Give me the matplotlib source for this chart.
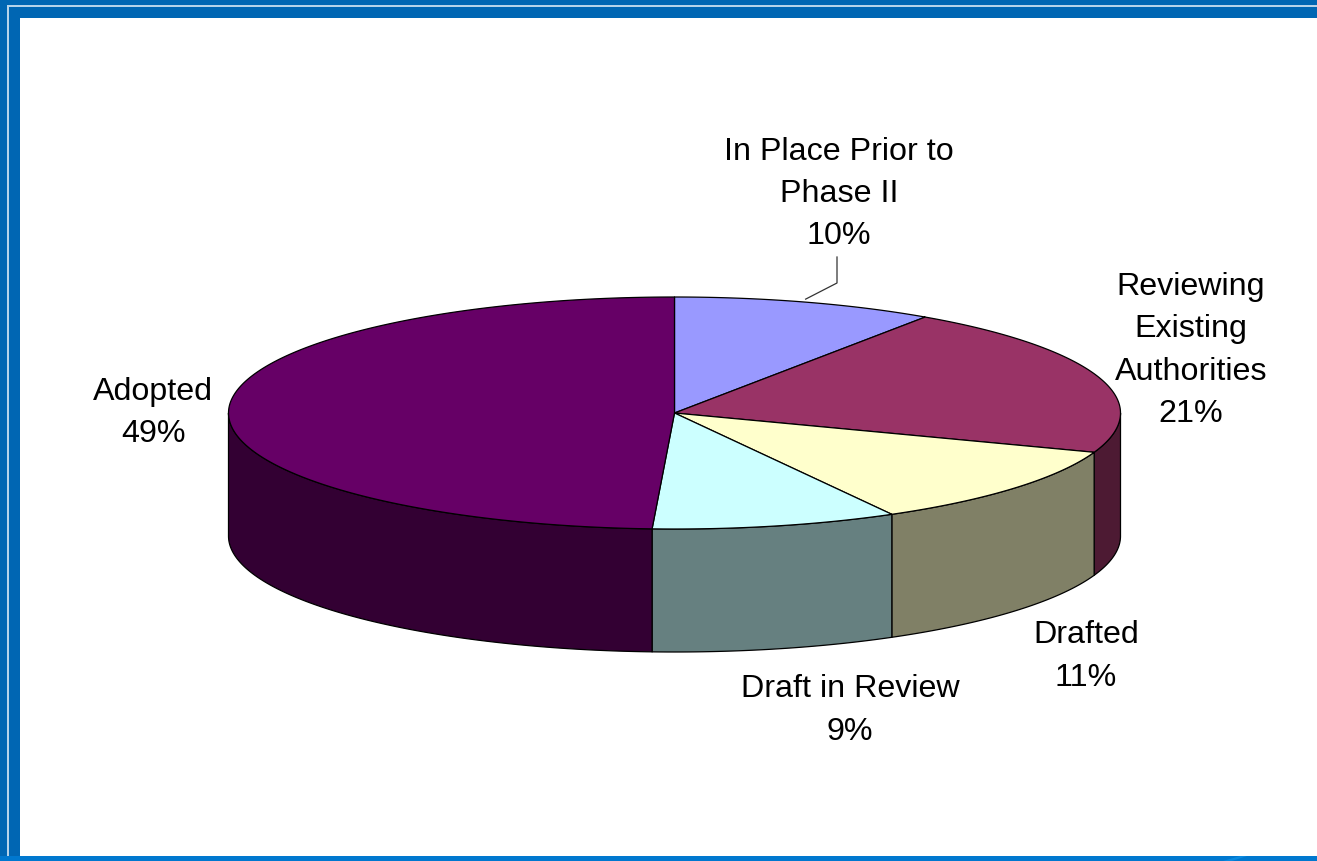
import numpy as np
import matplotlib
matplotlib.use('Agg')
import matplotlib.pyplot as plt
from matplotlib.patches import Rectangle

plt.rcParams['font.family'] = ['Liberation Sans', 'DejaVu Sans']

# values, printed labels are the rounded ones
categories = ['In Place Prior to\nPhase II', 'Reviewing\nExisting\nAuthorities', 'Drafted', 'Draft in Review', 'Adopted']
values = [9.5, 21.0, 11.4, 8.9, 49.2]
pct_labels = ['10%', '21%', '11%', '9%', '49%']
top_colors = ['#9999FF', '#993366', '#FFFFCC', '#CCFFFF', '#660066']
side_colors = ['#4D4D80', '#4D1A33', '#808066', '#668080', '#330033']
label_pos = [(839, 194), (1191, 350.5), (1086, 656.5), (850, 710.5), (153, 413)]

cx, cy = 674.5, 414
rx, ry = 446, 116
depth = 123


def ellipse(t):
    # t is clockwise from the top, in degrees
    a = np.radians(t)
    return cx + rx * np.sin(a), cy - ry * np.cos(a)


fig = plt.figure(figsize=(13.17, 8.62), dpi=100)
ax = fig.add_axes([0, 0, 1, 1])
ax.set_xlim(0, 1317)
ax.set_ylim(862, 0)
ax.axis('off')

# slide frame
blue = '#0066B3'
ax.add_patch(Rectangle((0, 0), 1317, 862, color=blue, lw=0))
ax.add_patch(Rectangle((7, 6), 1310, 2, color='#B5D3EA', lw=0))
ax.add_patch(Rectangle((7, 6), 2, 856, color='#B5D3EA', lw=0))
ax.add_patch(Rectangle((20, 19), 1297, 838, color='white', lw=0))
ax.add_patch(Rectangle((0, 857), 1317, 5, color='#0078CF', lw=0))
ax.fill([1223, 1240, 1247, 1232], [862, 857, 857, 862], color='#0A8AE0', lw=0)

ends = np.cumsum(values) / np.sum(values) * 360
starts = np.concatenate([[0], ends[:-1]])

# walls, only the front half of the rim shows (90 to 270 deg)
for s, e, c in zip(starts, ends, side_colors):
    lo, hi = max(s, 90), min(e, 270)
    if lo >= hi:
        continue
    t = np.linspace(lo, hi, 120)
    x, y = ellipse(t)
    ax.fill(np.r_[x, x[::-1]], np.r_[y, y[::-1] + depth], facecolor=c, edgecolor='black', lw=0.9, joinstyle='round')

# top faces
for s, e, c in zip(starts, ends, top_colors):
    t = np.linspace(s, e, 200)
    x, y = ellipse(t)
    ax.fill(np.r_[cx, x], np.r_[cy, y], facecolor=c, edgecolor='black', lw=0.9, joinstyle='round')

# leader for the first slice
lx, ly = ellipse((starts[0] + ends[0]) / 2)
ax.plot([lx, 837, 837], [ly - 3, 284, 258], color='#333333', lw=0.9)

for cat, pct, (tx, ty) in zip(categories, pct_labels, label_pos):
    ax.text(tx, ty, cat + '\n' + pct, ha='center', va='center', fontsize=23.2, color='black', linespacing=1.53)

fig.savefig('out.png', dpi=100)
